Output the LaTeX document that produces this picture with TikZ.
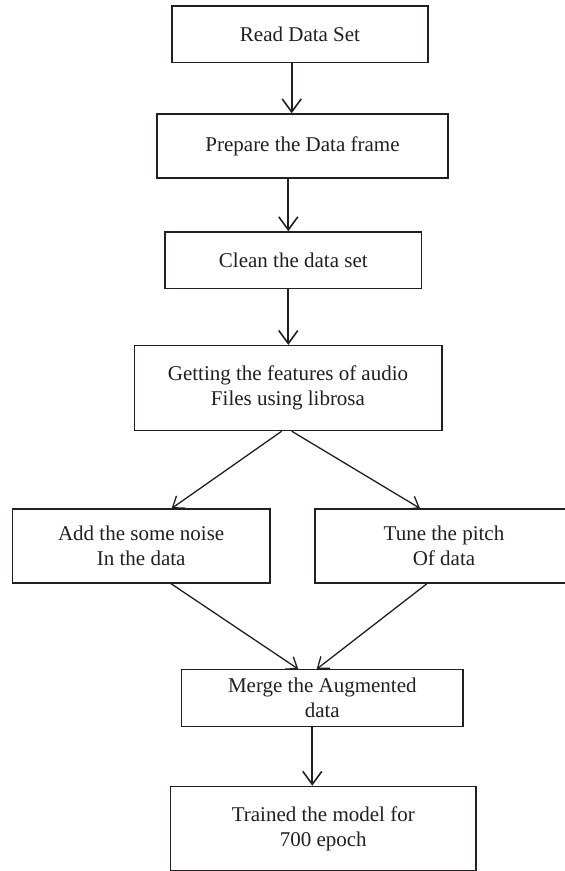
\documentclass[tikz,border=0pt]{standalone}
\usepackage{fontspec}
\setmainfont{Liberation Serif}
\usepackage{tikz}
\usetikzlibrary{positioning,arrows.meta}
\definecolor{figink}{HTML}{231F20}

\begin{document}
\begin{tikzpicture}[x=1pt,y=-1pt,
  stepbox/.style={draw=figink,line width=1.3pt,fill=white,inner sep=0pt,align=center,
    font=\fontsize{21}{25}\selectfont,text=figink},
  down/.style={draw=figink,line width=2.2pt,-{Straight Barb[length=13pt,width=19pt,line width=1.6pt]}},
  slant/.style={draw=figink,line width=1.3pt,-{Straight Barb[length=10pt,width=15pt]}}
]
\clip (0,0) rectangle (565,871);
\node[stepbox,minimum width=256pt,minimum height=56.7pt] (read) at (300,34.3) {Read Data Set};
\node[stepbox,minimum width=291pt,minimum height=64pt,below=50pt of read,xshift=2.5pt] (frame) {Prepare the Data frame};
\node[stepbox,minimum width=256.7pt,minimum height=56.7pt,below=52.6pt of frame,xshift=-9.2pt] (clean) {Clean the data set};
\node[stepbox,minimum width=307.7pt,minimum height=85pt,below=55.7pt of clean,xshift=-5.3pt] (feat) {Getting the features of audio\\Files using librosa};
\node[stepbox,minimum width=257.5pt,minimum height=74pt] (noise) at (141.2,546) {Add the some noise\\In the data};
\node[stepbox,minimum width=258pt,minimum height=74pt] (pitch) at (444,546) {Tune the pitch\\Of data};
\node[stepbox,minimum width=281.5pt,minimum height=56.5pt] (merge) at (322.3,698) {Merge the Augmented\\data};
\node[stepbox,minimum width=305.5pt,minimum height=84.7pt,below=58.8pt of merge,xshift=1pt] (train) {Trained the model for\\700 epoch};

\draw[down] ([xshift=-8.3pt]read.south) -- ([xshift=-8.3pt]read.south |- frame.north);
\draw[down] ([xshift=-14.2pt]frame.south) -- ([xshift=-14.2pt]frame.south |- clean.north);
\draw[down] ([xshift=-5pt]clean.south) -- ([xshift=-5pt]clean.south |- feat.north);
\draw[slant] ([xshift=-6.3pt]feat.south) -- ([xshift=30.5pt]noise.north);
\draw[slant] ([xshift=3.7pt]feat.south) -- ([xshift=-24pt]pitch.north);
\draw[slant] ([xshift=29.8pt]noise.south) -- ([xshift=-24pt]merge.north);
\draw[slant] ([xshift=-17pt]pitch.south) -- ([xshift=-5.6pt]merge.north);
\draw[down] ([xshift=-10pt]merge.south) -- ([xshift=-10pt]merge.south |- train.north);
\end{tikzpicture}
\end{document}
